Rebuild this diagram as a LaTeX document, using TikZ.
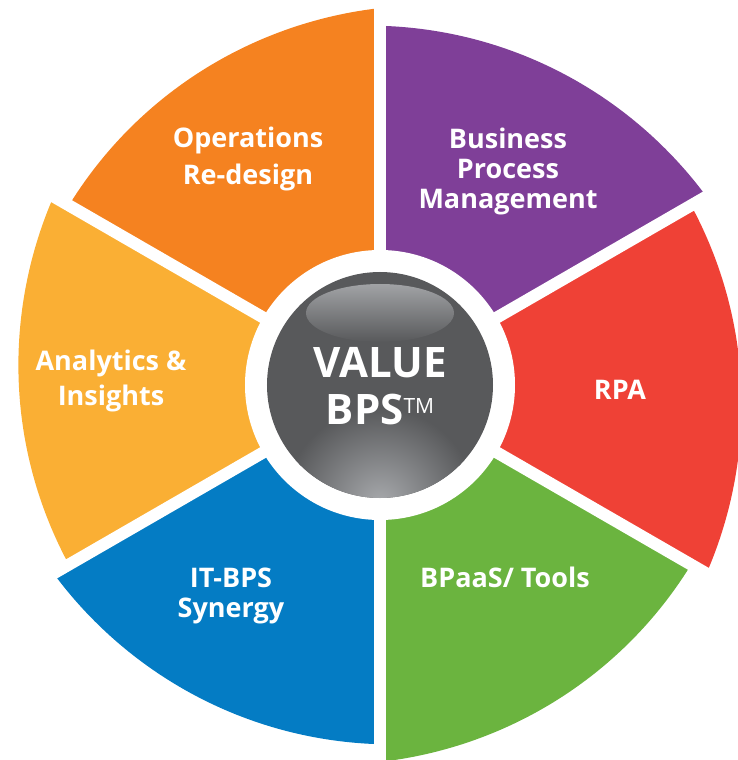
\documentclass[tikz,border=0pt]{standalone}
\usepackage{fontspec}
\setmainfont{Open Sans}
\usetikzlibrary{positioning}

\definecolor{bpmpurple}{HTML}{7F3F98}
\definecolor{opsorange}{HTML}{F58220}
\definecolor{anayellow}{HTML}{FAAF34}
\definecolor{itblue}{HTML}{047CC4}
\definecolor{toolgreen}{HTML}{6BB43F}
\definecolor{rpared}{HTML}{EF4136}
\definecolor{coregrey}{HTML}{58595B}
\definecolor{glowgrey}{HTML}{A7A9AC}

\tikzset{
  seglabel/.style={text=white, align=center, inner sep=0pt,
    font=\bfseries\fontsize{27}{#1}\selectfont},
  seglabel/.default=30,
  gap/.style={white, line width=12pt}
}

\begin{document}
\begin{tikzpicture}[x=1pt, y=1pt]
  \useasboundingbox (-380,-375) rectangle (358,385);
  \clip (-380,-375) rectangle (358,385);

  % six segments, each a wedge cut from an off-centre disc
  \foreach \rot/\col in {0/bpmpurple, 60/opsorange, 120/anayellow,
                         180/itblue, 240/toolgreen, 300/rpared}{
    \begin{scope}[rotate=\rot]
      \clip (0,0) -- (30:500) arc[start angle=30, end angle=90, radius=500] -- cycle;
      \fill[\col] (-12.2,-61.4) circle[radius=420.8];
    \end{scope}
  }

  % white gaps and ring
  \foreach \a in {30,90,...,330}
    \draw[gap] (0,0) -- (\a:450);
  \fill[white] (0,0) circle[radius=135];

  % grey hub with gloss
  \fill[coregrey] (0,0) circle[radius=113];
  \begin{scope}
    \clip (0,0) circle[radius=113];
    \shade[inner color=glowgrey, outer color=coregrey] (0,-118) circle[radius=95];
  \end{scope}
  \shade[top color=glowgrey!85!gray, bottom color=coregrey] (0,72) ellipse[x radius=74, y radius=29];

  \node[text=white, align=center, inner sep=0pt,
        font=\bfseries\fontsize{42}{47}\selectfont] (core) at (0,-1)
        {VALUE\\BPS\raisebox{11pt}{\mdseries\fontsize{21}{21}\selectfont TM}};

  % segment labels
  \node[seglabel=30] (bpm) at (128,214) {Business\\Process\\Management};
  \node[seglabel=37] (ops) at (-132,226) {Operations\\Re-design};
  \node[seglabel=35] (ana) at (-269,4) {Analytics \&\\Insights};
  \node[seglabel=30] (itbps) at (-149,-211) {IT-BPS\\Synergy};
  \node[seglabel, anchor=base] (bpaas) at (125,-202) {BPaaS/ Tools};
  \node[seglabel] (rpa) at (240,-5) {RPA};
\end{tikzpicture}
\end{document}
